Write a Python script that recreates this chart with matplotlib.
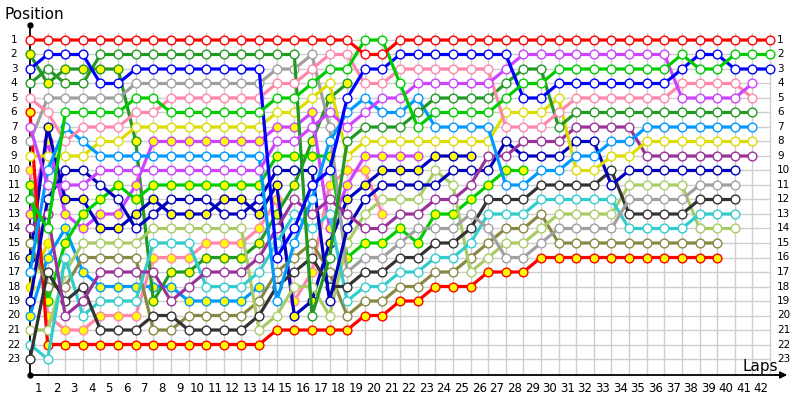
import matplotlib
matplotlib.use('Agg')
import matplotlib.pyplot as plt
import numpy as np

N = None
laps = list(range(0, 43))
x_labels = [str(k) for k in range(1, 43)]
y_labels = [str(k) for k in range(1, 24)]

# positions per driver, lap 0 .. 42 (None = not running)
R1 = [1]*19 + [2, 2] + [1]*22
G1 = [12,14,6,6,6,6,5,5,6,6,6,6,6,6,5,5,4,3,3,1,1,4,7,6,6,6,6,5,4,4,3,3,3,3,3,3,3,2,3,3,2,2,2]
B1 = [3,2,2,2,4,4] + [3]*8 + [16,14,11,10,5,3,3] + [2]*7 + [5,5] + [4]*7 + [3,2,2,3,3,3]
DG1 = [4,3,4,4] + [2]*12 + [20,16,8,7,7,7,6,5,5,5,5,4,3,3,7] + [6]*11 + [N]
DG2 = [2,4,3,3,3,3,8,19,17,17,16,16,16,15,13,11,8,5,4] + [N]*24
PK1 = [5,6,8,7,7,7,6,6,5,5,5,5,5,5,4,4,3,2,2,4,4,3,3,3,3,3,3,7,7,7,6,5,5,5,5,5,5,4,4,4,4,5,N]
R2 = [6] + [22]*13 + [21]*5 + [20,20,19,19,18,18,18,17,17,17] + [16]*11 + [N]*3
M1 = [7,11,11,11] + [10]*10 + [8,8,7,6,7,6,5,5] + [4]*5 + [3] + [2]*9 + [5]*4 + [4, N]
GR = [8] + [5]*5 + [4]*8 + [3,3,2,7,17,16,16,15,14,14,14,13,14,16,16,15] + [14]*4 + [12]*4 + [11]*3 + [N, N]
Y1 = [9,9,9,9,8,8] + [7]*8 + [6,6,5,4,9] + [8]*8 + [6,6,6,5,10,10,9,9] + [8]*7 + [N]
PK2 = [10,20,21,21,20,20,20,16,16,16,15,15,15,14,12,19,17,11,10,10,13] + [N]*22
G2 = [11,19,15,13,12,11,12,11,11,11,11,11,11,11,9,9,9,9,16,15,15,14,15,13,13,12,11,10,10] + [N]*14
M2 = [13,8,13,14,13,13,11,8,8,8,8,8,8,8,7,7,6,14,11,9,9,9,9] + [N]*20
DP1 = [14,13,20,19,17,17,17,17,19,18,17,17,17,16,14,12,13,12,13,14,14,13,13,12,12,11,9,9,8,8,8,7,7,7,7,9,9,9,9,9,9,9,N]
OL = [15,18,18,16,16,16,16,21,21,20,20,20,20,19,17,16,15,17,20,19,19,18,18,17,17,16,15,14,14,13] + [15]*10 + [N]*3
NV2 = [16,7,12,12,14,14,13,12,13,13,13,12,12,13,11,20,19,15,12,11,10,10,10,9,9,9] + [N]*17
LB1 = [17,10,7,8] + [9]*10 + [19,15,12,8,6,5,6,6,5,7,7,7,7,11,11,10,10,9,9,8,8] + [7]*7 + [N]
Y2 = [18, 15] + [N]*41
NV1 = [19,12,10,10,11,12,14,13,12,12,12,13,13,12,10,10,10,19,14,12,11,11,11,11,10,10,10,8,9,9,9,8,8,11] + [10]*7 + [N, N]
LB2 = [20,16,14,17,18,18,18,18,18,19,19,19,19,18] + [N]*29
LG = [21,21,17,15,15,15,15,14,14,14,14,14,14,21,20,18,18,20,15,13,12,12,12,10,11,17,16,15,15,14,13,13,13,13,11,11,11,11,14,14,14,N,N]
CY = [22,23,16,20,19,19,19,15,15,15,18,18,18,17,15,13,14,13,19,18,18,17,17,16,16,15,13,13,13,12,12,12,12,12,14,14,14,14,13,13,13,N,N]
BK = [23,17,19,18,21,21,21,20,20,21,21,21,21,20,18,17,16,18,18,17,17,16,16,15,15,14,12,12,12,11,11,11,11,10,13,13,13,13,12,12,12,N,N]

YEL = '#ffff00'
WH = '#ffffff'
drivers = [
    (Y2, '#dddd00', YEL), (LB2, '#0099ff', YEL), (PK2, '#ff88aa', YEL),
    (DG2, '#229922', YEL), (M2, '#cc44ff', YEL), (NV2, '#0000bb', YEL),
    (G2, '#00cc00', YEL), (R2, '#ff0000', YEL), (OL, '#888844', WH),
    (LG, '#aacc66', WH), (CY, '#33cccc', WH), (BK, '#333333', WH),
    (GR, '#a0a0a0', WH), (NV1, '#0000bb', WH), (DP1, '#993399', WH),
    (Y1, '#dddd00', WH), (LB1, '#0099ff', WH), (DG1, '#229922', WH),
    (PK1, '#ff88aa', WH), (M1, '#cc44ff', WH), (B1, '#0000ff', WH),
    (G1, '#00cc00', WH), (R1, '#ff0000', WH),
]

X0, DX = 30.0, 17.62
Y0, DY = 40.0, 14.5
def fx(px):
    return (px - X0) / DX
def fy(py):
    return 1 + (py - Y0) / DY

fig = plt.figure(figsize=(8, 4), dpi=100)
ax = fig.add_axes([0, 0, 1, 1])
ax.set_xlim(fx(0), fx(800))
ax.set_ylim(fy(400), fy(0))
ax.axis('off')

ybot = fy(375)
ytop_grid = fy(33)
for L in range(1, 43):
    ax.plot([L, L], [ytop_grid, ybot], color='#cfcfcf', lw=1.0, zorder=1)
for p in range(1, 24):
    ax.plot([0, 42], [p, p], color='#cfcfcf', lw=1.0, zorder=1)

# axes
ax.plot([0, 0], [fy(25), ybot], color='black', lw=1.3, zorder=2)
ax.plot([0, fx(778)], [ybot, ybot], color='black', lw=1.3, zorder=2)
ax.plot([0], [fy(25)], marker='o', ms=3.5, color='black', zorder=3)
ax.plot([0], [ybot], marker='o', ms=3.5, color='black', zorder=3)
ax.annotate('', xy=(fx(790), ybot), xytext=(fx(772), ybot),
            arrowprops=dict(arrowstyle='-|>', color='black', lw=1.2,
                            mutation_scale=10), zorder=3)

ax.text(fx(4), fy(15), 'Position', fontsize=11, ha='left', va='center')
ax.text(fx(742), fy(366), 'Laps', fontsize=11, ha='left', va='center')
for k, lab in enumerate(x_labels, start=1):
    ax.text(k - 0.5, fy(388), lab, fontsize=8.5, ha='center', va='center')
for p, lab in enumerate(y_labels, start=1):
    ax.text(fx(14), p, lab, fontsize=7.5, ha='center', va='center')
    ax.text(fx(777), p, lab, fontsize=7.5, ha='left', va='center')

for i, (pos, col, fill) in enumerate(drivers):
    y = np.array([np.nan if v is None else v for v in pos], dtype=float)
    ax.plot(laps, y, color=col, lw=2.3, solid_joinstyle='round',
            marker='o', ms=6.3, mfc=fill, mec=col, mew=1.0, zorder=5 + i)

fig.savefig('out.png', dpi=100)
